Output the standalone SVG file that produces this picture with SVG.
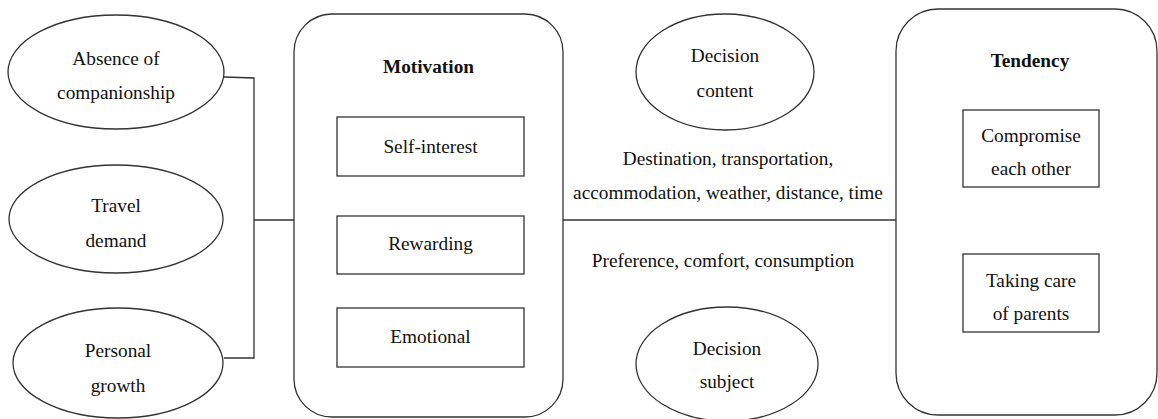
<svg xmlns="http://www.w3.org/2000/svg" width="1158" height="419" viewBox="0 0 1158 419">
<style>
.s{fill:#fff;stroke:#333;stroke-width:1.3}
.c{fill:none;stroke:#333;stroke-width:1.3}
.t{font-family:'Liberation Serif','DejaVu Serif',serif;font-size:19.3px;fill:#111;text-anchor:middle}
.b{font-weight:bold}
</style>
<rect width="1158" height="419" fill="#fff"/>
<g id="connectors">
<path class="c" d="M224 77 L254 78 L254 358 L224 358"/>
<path class="c" d="M254 220 L294 220"/>
<path class="c" d="M563 220 L896 220"/>
</g>
<g class="t" font-family="Liberation Serif, DejaVu Serif, serif">
<g id="absence">
<ellipse class="s" cx="116" cy="72" rx="108" ry="57"/>
<text x="116" y="65">Absence of</text>
<text x="116" y="99">companionship</text>
</g>
<g id="travel">
<ellipse class="s" cx="116" cy="219" rx="107" ry="54"/>
<text x="116" y="212">Travel</text>
<text x="116" y="247">demand</text>
</g>
<g id="personal">
<ellipse class="s" cx="118" cy="363" rx="105" ry="55"/>
<text x="118" y="357">Personal</text>
<text x="118" y="392">growth</text>
</g>
<g id="motivation">
<rect class="s" x="294" y="14" width="269" height="403" rx="38" ry="38"/>
<text class="b" x="428.5" y="73">Motivation</text>
</g>
<g id="self-interest">
<rect class="s" x="337" y="117" width="187" height="59"/>
<text x="430.5" y="153">Self-interest</text>
</g>
<g id="rewarding">
<rect class="s" x="337" y="216" width="187" height="58"/>
<text x="430.5" y="250">Rewarding</text>
</g>
<g id="emotional">
<rect class="s" x="337" y="308" width="187" height="59"/>
<text x="430.5" y="343">Emotional</text>
</g>
<g id="decision-content">
<ellipse class="s" cx="725" cy="72" rx="89" ry="58"/>
<text x="725" y="62">Decision</text>
<text x="725" y="97">content</text>
</g>
<g id="content-label">
<text x="728" y="165">Destination, transportation,</text>
<text x="728" y="199">accommodation, weather, distance, time</text>
</g>
<g id="subject-label">
<text x="723" y="267">Preference, comfort, consumption</text>
</g>
<g id="decision-subject">
<ellipse class="s" cx="727" cy="364" rx="91" ry="57"/>
<text x="727" y="355">Decision</text>
<text x="727" y="388">subject</text>
</g>
<g id="tendency">
<rect class="s" x="896" y="9" width="261" height="406" rx="42" ry="42"/>
<text class="b" x="1030" y="67">Tendency</text>
</g>
<g id="compromise">
<rect class="s" x="963" y="110" width="136" height="77"/>
<text x="1031" y="142">Compromise</text>
<text x="1031" y="175">each other</text>
</g>
<g id="parents">
<rect class="s" x="963" y="254" width="136" height="78"/>
<text x="1031" y="287">Taking care</text>
<text x="1031" y="320">of parents</text>
</g>
</g>
</svg>
